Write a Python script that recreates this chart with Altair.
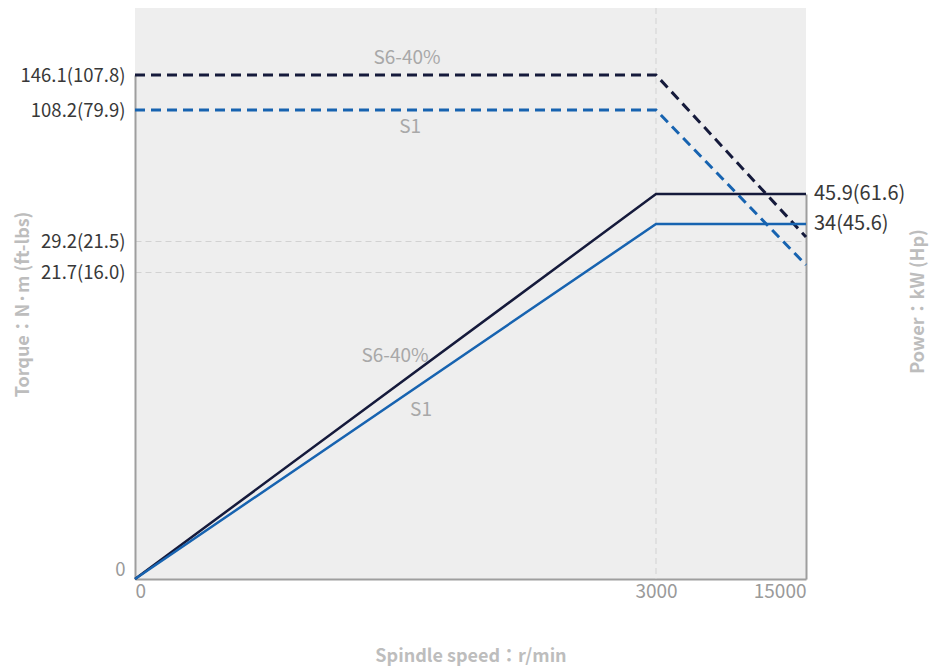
import altair as alt
import pandas as pd

# ---------------- data ----------------
series = ["S6-40%", "S1"]
speed = [0, 3000, 15000]
torque_s6 = [146.1, 146.1, 31.6]
torque_s1 = [108.2, 108.2, 23.4]
power_s6 = [0, 45.9, 45.9]
power_s1 = [0, 34, 34]

torque_ticks = [0, 21.7, 29.2, 108.2, 146.1]
torque_tick_labels = ["0", "21.7(16.0)", "29.2(21.5)", "108.2(79.9)", "146.1(107.8)"]
speed_ticks = [0, 3000, 15000]
speed_grid = [3000]
power_ticks = [0, 34, 45.9]

power_end_labels = ["45.9(61.6)", "34(45.6)"]
power_end_values = [45.9, 34]

top_label_speed = [1566, 1584]
top_label_torque = [146.1, 108.2]
low_label_speed = [1497, 1647]
low_label_power = [21.4, 16.2]

NAVY = "#151a3b"
BLUE = "#1763b0"
FONT = "Noto Sans CJK JP"

W, H = 671, 571

torque_df = pd.DataFrame({
    "series": [series[0]] * 3 + [series[1]] * 3,
    "speed": speed + speed,
    "torque": torque_s6 + torque_s1,
})
power_df = pd.DataFrame({
    "series": [series[0]] * 3 + [series[1]] * 3,
    "speed": speed + speed,
    "power": power_s6 + power_s1,
})
end_df = pd.DataFrame({
    "label": power_end_labels,
    "speed": [speed[-1]] * 2,
    "power": power_end_values,
})
grid_df = pd.DataFrame({"speed": speed_grid})
top_above_df = pd.DataFrame({"label": [series[0]], "speed": [top_label_speed[0]], "torque": [top_label_torque[0]]})
top_below_df = pd.DataFrame({"label": [series[1]], "speed": [top_label_speed[1]], "torque": [top_label_torque[1]]})
low_df = pd.DataFrame({"label": series, "speed": low_label_speed, "power": low_label_power})

# ---------------- scales ----------------
x_scale = alt.Scale(domain=speed_ticks, range=[0, 521, W], nice=False, zero=False)
t_scale = alt.Scale(domain=torque_ticks, range=[H, 264, 233, 102, 67], nice=False, zero=False)
p_scale = alt.Scale(domain=power_ticks, range=[H, 216, 186], nice=False, zero=False)
c_scale = alt.Scale(domain=series, range=[NAVY, BLUE])

label_expr = " : ".join(
    f"datum.value === {v} ? '{s}'" for v, s in zip(torque_ticks, torque_tick_labels)
) + " : datum.label"

x_axis = alt.Axis(
    values=speed_ticks, format="d", labelFlush=True, labelFontSize=19, labelColor="#9a9a9a",
    labelPadding=3, ticks=False, domainColor="#9e9e9e", domainWidth=2, grid=False,
    title="Spindle speed：r/min", titleColor="#bdbdbd", titleFontSize=18, titleFontWeight="bold",
    titleX=W / 2, titleY=77, titleBaseline="middle",
)

t_axis = alt.Axis(
    values=torque_ticks, labelExpr=label_expr, labelFontSize=18.5,
    labelColor={"condition": {"test": "datum.value === 0", "value": "#9a9a9a"}, "value": "#383838"},
    labelBaseline={"condition": {"test": "datum.value === 0", "value": "bottom"}, "value": "middle"},
    labelPadding=10, ticks=False, domainColor="#9e9e9e", domainWidth=2,
    grid=True, gridColor="#d2d2d2", gridDash=[6, 4], gridWidth=1,
    gridOpacity={"condition": {"test": "datum.value === 21.7 || datum.value === 29.2", "value": 1}, "value": 0},
    title="Torque：N·m (ft-lbs)", titleColor="#bdbdbd", titleFontSize=18, titleFontWeight="bold",
    titleAngle=270, titleX=-112, titleY=296, titleBaseline="middle",
)

p_axis = alt.Axis(
    orient="right", labels=False, ticks=False, grid=False,
    domainColor="#9e9e9e", domainWidth=2,
    title="Power：kW (Hp)", titleColor="#bdbdbd", titleFontSize=18, titleFontWeight="bold",
    titleAngle=270, titleX=112, titleY=293, titleBaseline="middle",
)

# ---------------- torque layer ----------------
v_grid = alt.Chart(grid_df).mark_rule(color="#d2d2d2", strokeDash=[6, 4], strokeWidth=1).encode(
    x=alt.X("speed:Q", scale=x_scale, axis=x_axis),
    y=alt.value(0),
    y2=alt.value(H),
)
torque_lines = alt.Chart(torque_df).mark_line(strokeDash=[10, 6], strokeWidth=3).encode(
    x=alt.X("speed:Q", scale=x_scale, axis=x_axis),
    y=alt.Y("torque:Q", scale=t_scale, axis=t_axis),
    color=alt.Color("series:N", scale=c_scale, legend=None),
    order=alt.Order("speed:Q"),
)
top_above = alt.Chart(top_above_df).mark_text(fontSize=19, color="#a8a8a8", dy=-17, font=FONT).encode(
    x=alt.X("speed:Q", scale=x_scale),
    y=alt.Y("torque:Q", scale=t_scale),
    text="label:N",
)
top_below = alt.Chart(top_below_df).mark_text(fontSize=19, color="#a8a8a8", dy=17, font=FONT).encode(
    x=alt.X("speed:Q", scale=x_scale),
    y=alt.Y("torque:Q", scale=t_scale),
    text="label:N",
)
torque_layer = alt.layer(v_grid, torque_lines, top_above, top_below)

# ---------------- power layer ----------------
power_lines = alt.Chart(power_df).mark_line(strokeWidth=2.5).encode(
    x=alt.X("speed:Q", scale=x_scale),
    y=alt.Y("power:Q", scale=p_scale, axis=p_axis),
    color=alt.Color("series:N", scale=c_scale, legend=None),
    order=alt.Order("speed:Q"),
)
low_labels = alt.Chart(low_df).mark_text(fontSize=19, color="#a8a8a8", font=FONT).encode(
    x=alt.X("speed:Q", scale=x_scale),
    y=alt.Y("power:Q", scale=p_scale),
    text="label:N",
)
end_labels = alt.Chart(end_df).mark_text(fontSize=20, color="#383838", align="left", dx=8, font=FONT).encode(
    x=alt.X("speed:Q", scale=x_scale),
    y=alt.Y("power:Q", scale=p_scale),
    text="label:N",
)
power_layer = alt.layer(power_lines, low_labels, end_labels)

chart = alt.layer(torque_layer, power_layer).resolve_scale(y="independent").properties(
    width=W, height=H,
    autosize=alt.AutoSizeParams(type="none"),
    padding={"left": 127, "top": 0, "right": 128, "bottom": 90},
).configure(
    font=FONT,
).configure_view(
    stroke=None, fill="#eeeeee",
).configure_axis(
    labelFont=FONT, titleFont=FONT,
)

chart.save("out.html", embed_options={"renderer": "svg", "actions": False})
